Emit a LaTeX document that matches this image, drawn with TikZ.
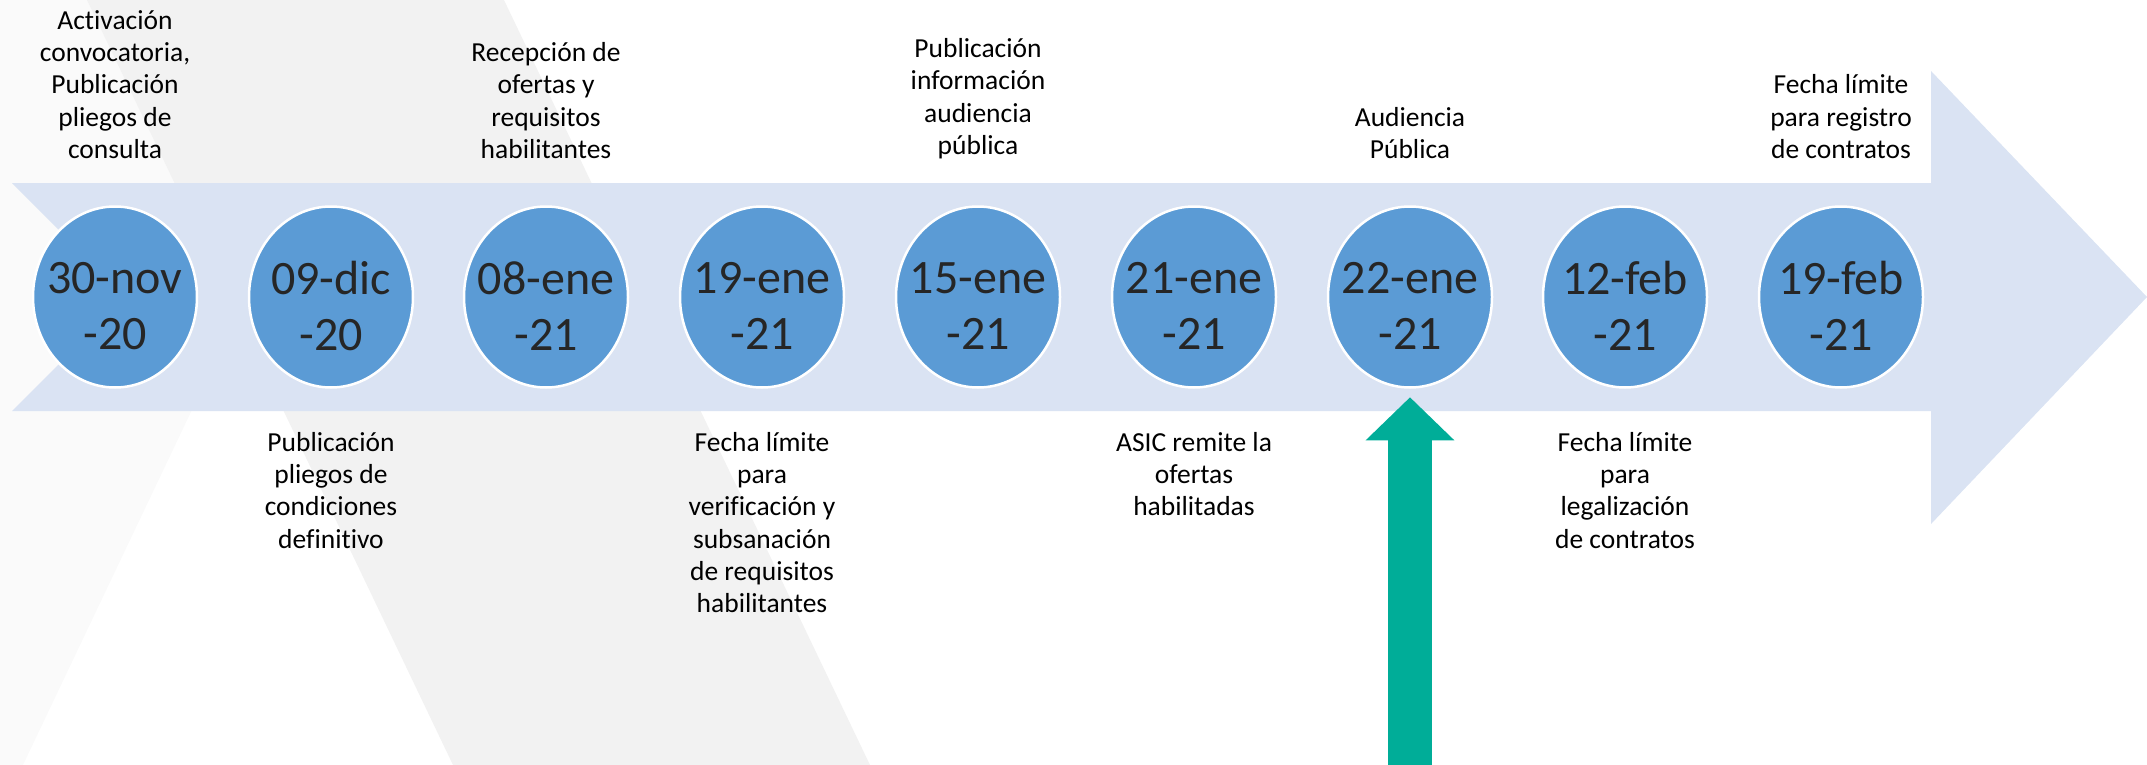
\documentclass[tikz,border=0pt]{standalone}
\usepackage{fontspec}
\setmainfont{Carlito}[Ligatures=NoCommon]
\usetikzlibrary{shapes.geometric,arrows.meta}
\definecolor{bandblue}{RGB}{218,227,243}
\definecolor{dotblue}{RGB}{91,155,213}
\definecolor{datetext}{RGB}{38,38,38}
\definecolor{marker}{RGB}{0,173,152}
\definecolor{wmgrey}{RGB}{242,242,242}
\definecolor{wmfaint}{RGB}{250,250,250}
\begin{document}
\begin{tikzpicture}[x=1pt, y=-1pt,
        dot/.style={ellipse, fill=dotblue, draw=white, line width=2.5pt,
            minimum width=164pt, minimum height=181pt, inner sep=0pt},
        datetxt/.style={text=datetext, align=center, inner sep=0pt,
            font=\fontsize{48}{56}\selectfont, yshift=-9pt},
        uplabel/.style={anchor=south, align=center, inner sep=0pt,
            font=\fontsize{27.5}{32.3}\selectfont},
        downlabel/.style={anchor=north, align=center, inner sep=0pt,
            font=\fontsize{27.5}{32.3}\selectfont}]
    \useasboundingbox (0,0) rectangle (2147,765);
    % watermark in the back
    \fill[wmfaint] (0,0) -- (387,0) -- (23,765) -- (0,765) -- cycle;
    \fill[wmgrey] (87,0) -- (504,0) -- (870,765) -- (453,765) -- cycle;
    % timeline arrow
    \fill[bandblue] (12,183) -- (1931,183) -- (1931,71) -- (2147,297)
        -- (1931,524) -- (1931,411) -- (12,411) -- (126,297) -- cycle;

    % dates
    \node[dot] (d0) at (115,297) {};
    \node[datetxt] (t0) at (d0) {30-nov\\-20};
    \node[dot] (d1) at (331,297) {};
    \node[datetxt] (t1) at (d1) {09-dic\\-20};
    \node[dot] (d2) at (546,297) {};
    \node[datetxt] (t2) at (d2) {08-ene\\-21};
    \node[dot] (d3) at (762,297) {};
    \node[datetxt] (t3) at (d3) {19-ene\\-21};
    \node[dot] (d4) at (978,297) {};
    \node[datetxt] (t4) at (d4) {15-ene\\-21};
    \node[dot] (d5) at (1194,297) {};
    \node[datetxt] (t5) at (d5) {21-ene\\-21};
    \node[dot] (d6) at (1410,297) {};
    \node[datetxt] (t6) at (d6) {22-ene\\-21};
    \node[dot] (d7) at (1625,297) {};
    \node[datetxt] (t7) at (d7) {12-feb\\-21};
    \node[dot] (d8) at (1841,297) {};
    \node[datetxt] (t8) at (d8) {19-feb\\-21};

    % events above
    \node[uplabel] (e0) at (115,159) {Activación\\convocatoria,\\Publicación\\pliegos de\\consulta};
    \node[uplabel] (e2) at (546,159) {Recepción de\\ofertas y\\requisitos\\habilitantes};
    \node[uplabel] (e4) at (978,159) {Publicación\\información\\audiencia\\pública};
    \node[uplabel] (e6) at (1410,159) {Audiencia\\Pública};
    \node[uplabel] (e8) at (1841,159) {Fecha límite\\para registro\\de contratos};

    % events below
    \node[downlabel] (e1) at (331,432) {Publicación\\pliegos de\\condiciones\\definitivo};
    \node[downlabel] (e3) at (762,432) {Fecha límite\\para\\verificación y\\subsanación\\de requisitos\\habilitantes};
    \node[downlabel] (e5) at (1194,432) {ASIC remite la\\ofertas\\habilitadas};
    \node[downlabel] (e7) at (1625,432) {Fecha límite\\para\\legalización\\de contratos};

    % current step
    \coordinate (foot) at (1410,765);
    \draw[marker, line width=44pt, -{Triangle[length=43pt, width=86pt]},
        shorten >=8.5pt] (foot) -- (d6);
\end{tikzpicture}
\end{document}
